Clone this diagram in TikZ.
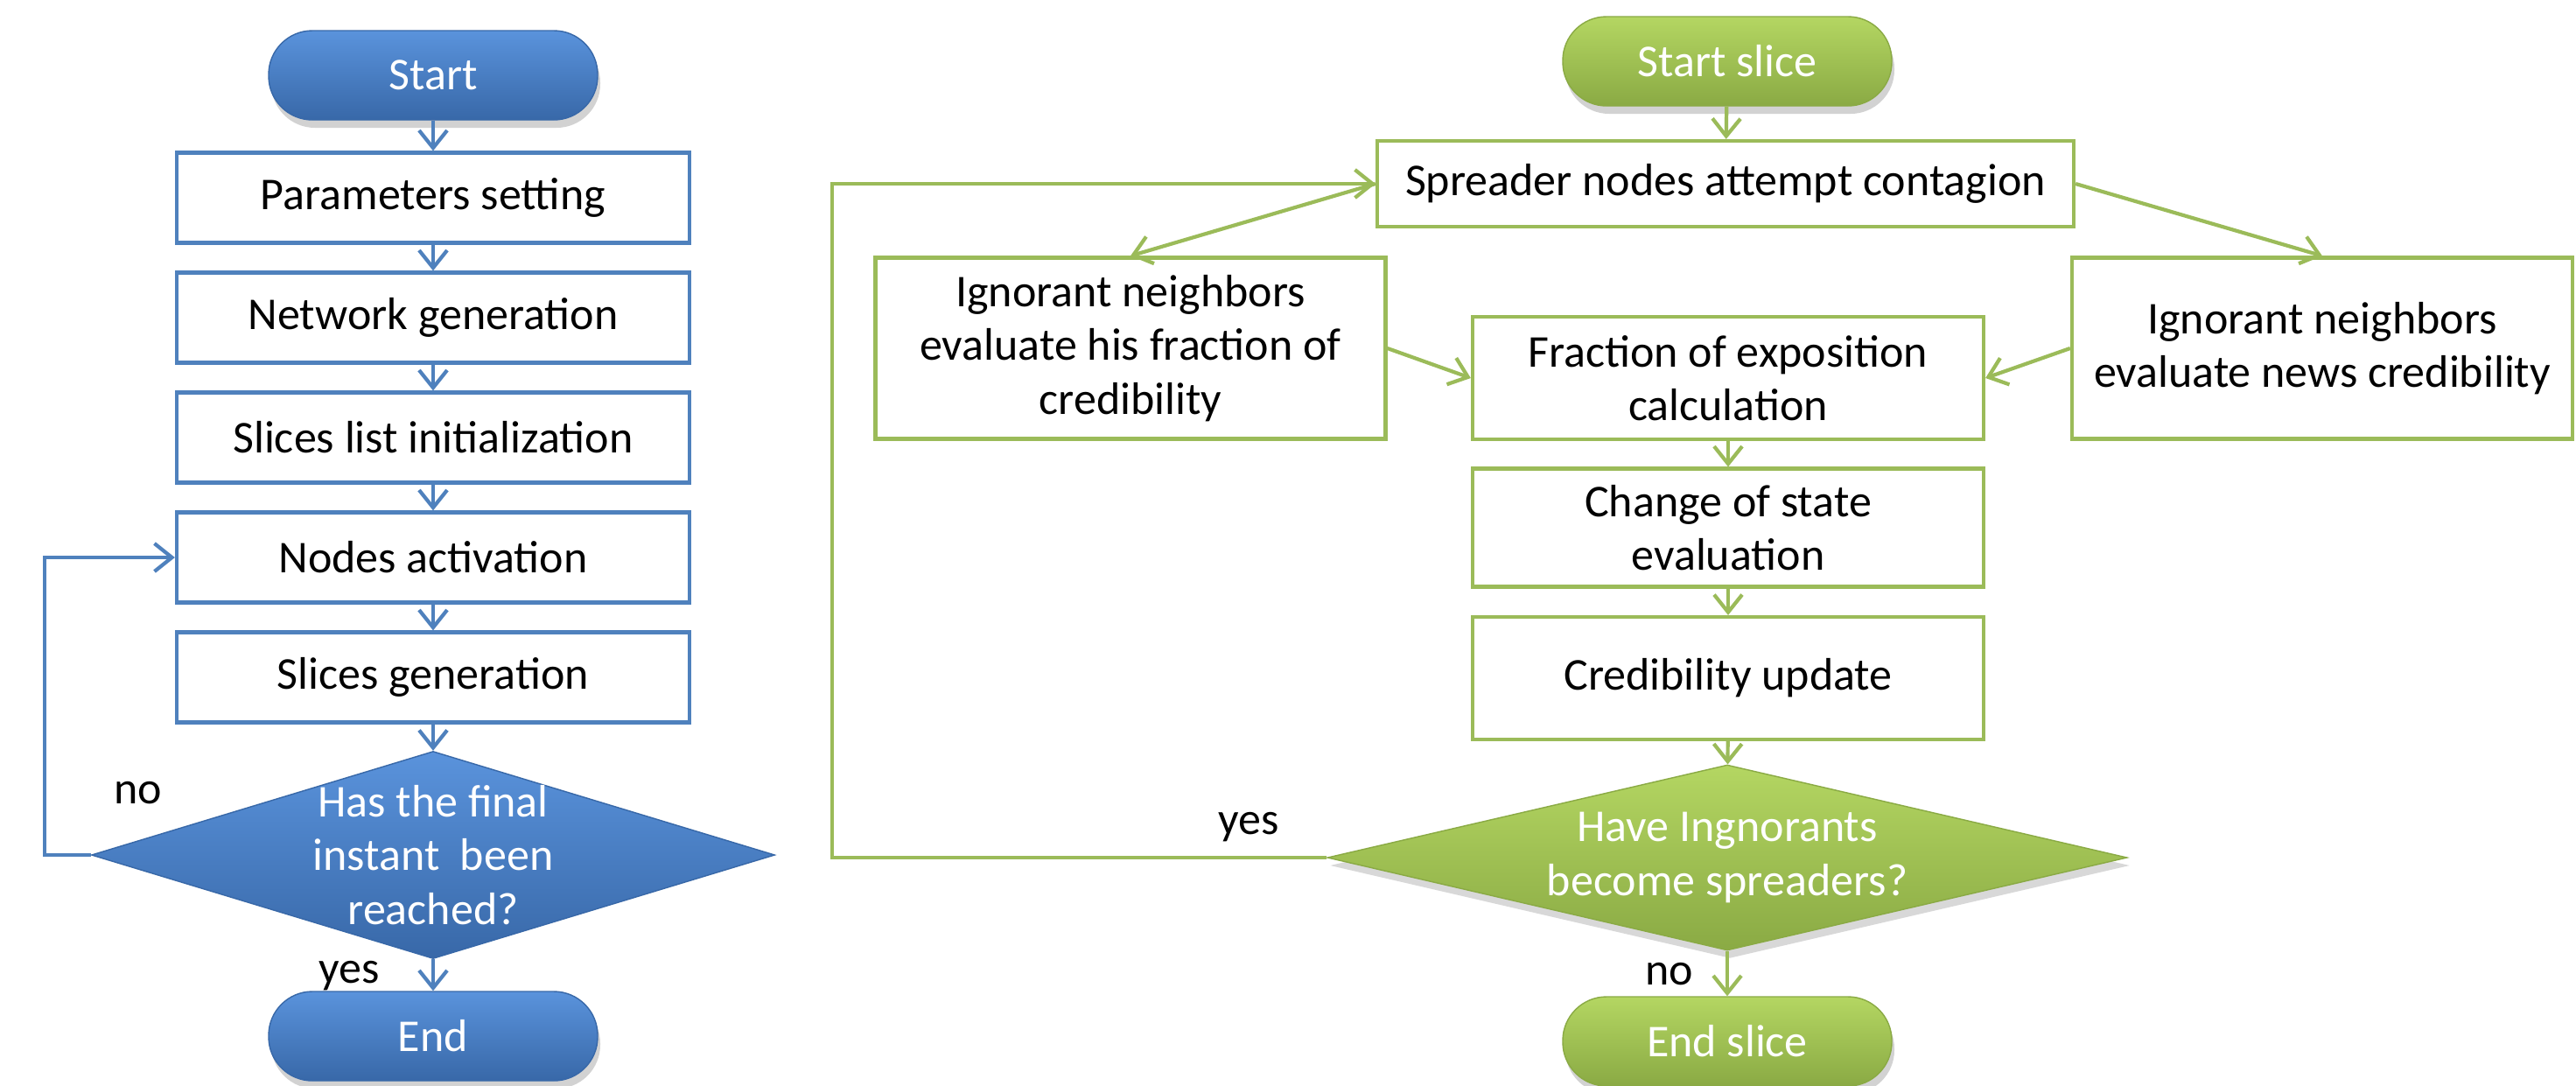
\documentclass[tikz,border=0pt]{standalone}
\usepackage{fontspec}
\setmainfont{Carlito}
\usetikzlibrary{arrows.meta,shapes.geometric,shadows}

\definecolor{blueline}{RGB}{79,129,189}
\definecolor{bluetop}{RGB}{90,147,220}
\definecolor{bluebot}{RGB}{56,104,168}
\definecolor{greenline}{RGB}{155,187,89}
\definecolor{greentop}{RGB}{180,214,98}
\definecolor{greenbot}{RGB}{138,170,68}

\tikzset{
  every node/.style={font=\fontsize{14.8}{17.5}\selectfont, align=center},
  pill/.style={rectangle, rounded corners=5mm, minimum width=3.76cm,
    minimum height=1.02cm, text=white,
    drop shadow={shadow xshift=0.3mm, shadow yshift=-0.9mm, opacity=0.35}},
  bluepill/.style={pill, draw=bluebot, top color=bluetop, bottom color=bluebot},
  greenpill/.style={pill, draw=greenbot, top color=greentop, bottom color=greenbot},
  bluebox/.style={rectangle, draw=blueline, line width=1.2pt, fill=white,
    minimum width=5.86cm, minimum height=1.03cm},
  greenbox/.style={rectangle, draw=greenline, line width=1.2pt, fill=white},
  bluetest/.style={diamond, aspect=3.3, inner xsep=0pt, inner ysep=-4pt, text=white, draw=bluebot,
    top color=bluetop, bottom color=bluebot, minimum width=7.81cm, minimum height=2.37cm},
  greentest/.style={diamond, aspect=4.3, inner sep=0pt, text=white, draw=greenbot,
    top color=greentop, bottom color=greenbot, minimum width=9.14cm, minimum height=2.12cm,
    drop shadow={shadow xshift=0.3mm, shadow yshift=-0.9mm, opacity=0.3}},
  bflow/.style={draw=blueline, line width=1.2pt, -{Straight Barb[length=2mm,width=3.2mm]}},
  gflow/.style={draw=greenline, line width=1.2pt, -{Straight Barb[length=2mm,width=3.2mm]}},
}

\begin{document}
\begin{tikzpicture}
  \path[use as bounding box, fill=white] (0,0) rectangle (29.44,-12.40);

  % main loop
  \node[bluepill] (start) at (4.95,-0.86) {Start};
  \node[bluebox] (par) at (4.95,-2.26) {Parameters setting};
  \node[bluebox] (net) at (4.95,-3.63) {Network generation};
  \node[bluebox] (sli) at (4.95,-5.00) {Slices list initialization};
  \node[bluebox] (act) at (4.95,-6.37) {Nodes activation};
  \node[bluebox] (gen) at (4.95,-7.74) {Slices generation};
  \node[bluetest] (fin) at (4.95,-9.77) {Has the final\\instant\ \ been\\reached?};
  \node[bluepill] (end) at (4.95,-11.84) {End};
  \node (no1) at (1.58,-9.06) {no};
  \node (yes1) at (3.99,-11.15) {yes};

  % slice processing
  \node[greenpill] (sstart) at (19.74,-0.70) {Start slice};
  \node[greenbox, minimum width=7.96cm, minimum height=0.98cm] (spr) at (19.72,-2.10) {Spreader nodes attempt contagion};
  \node[greenbox, minimum width=5.83cm, minimum height=2.07cm] (ignl) at (12.92,-3.98) {Ignorant neighbors\\evaluate his fraction of\\credibility};
  \node[greenbox, minimum width=5.84cm, minimum height=1.40cm] (frac) at (19.75,-4.32) {Fraction of exposition\\calculation};
  \node[greenbox, minimum width=5.72cm, minimum height=2.07cm] (ignr) at (26.54,-3.98) {Ignorant neighbors\\evaluate news credibility};
  \node[greenbox, minimum width=5.84cm, minimum height=1.35cm] (chg) at (19.75,-6.03) {Change of state\\evaluation};
  \node[greenbox, minimum width=5.84cm, minimum height=1.40cm] (cred) at (19.75,-7.75) {Credibility update};
  \node[greentest] (spd) at (19.74,-9.80) {Have Ingnorants\\become spreaders?};
  \node[greenpill] (send) at (19.74,-11.90) {End slice};
  \node (yes2) at (14.27,-9.45) {yes};
  \node (no2) at (19.08,-11.13) {no};

  % Draw the flow arrows
  \draw[bflow] (start) -- (par);
  \draw[bflow] (par) -- (net);
  \draw[bflow] (net) -- (sli);
  \draw[bflow] (sli) -- (act);
  \draw[bflow] (act) -- (gen);
  \draw[bflow] (gen) -- (fin);
  \draw[bflow] (fin) -- (end);
  \draw[bflow] (fin.west) -- ++(-0.53,0) |- (act.west);

  \draw[gflow] (sstart) -- (spr);
  \draw[gflow] (spr.west) -- (ignl.north);
  \draw[gflow] (spr.east) -- (ignr.north);
  \draw[gflow] (ignl.east) -- (frac.west);
  \draw[gflow] (ignr.west) -- (frac.east);
  \draw[gflow] (frac) -- (chg);
  \draw[gflow] (chg) -- (cred);
  \draw[gflow] (cred) -- (spd);
  \draw[gflow] (spd) -- (send);
  \draw[gflow] (spd.west) -- ++(-5.65,0) |- (spr.west);
\end{tikzpicture}
\end{document}
